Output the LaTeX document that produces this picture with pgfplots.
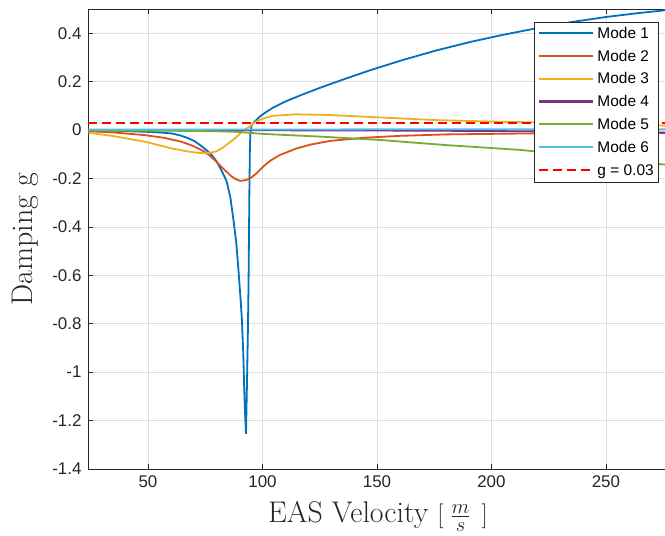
\documentclass[border=0pt]{standalone}
\usepackage{pgfplots}
\pgfplotsset{compat=1.18}
\usepackage{fontspec}
\newfontfamily\arial{Liberation Sans}
\usetikzlibrary{calc}
\definecolor{modeA}{rgb}{0,0.447,0.741}
\definecolor{modeB}{rgb}{0.850,0.325,0.098}
\definecolor{modeC}{rgb}{0.929,0.694,0.125}
\definecolor{modeD}{rgb}{0.494,0.184,0.556}
\definecolor{modeE}{rgb}{0.466,0.674,0.188}
\definecolor{modeF}{rgb}{0.301,0.745,0.933}
\definecolor{axgray}{rgb}{0.15,0.15,0.15}
\definecolor{gridgray}{rgb}{0.875,0.875,0.875}
\newcommand{\legline}[1]{\textcolor{#1}{\rule[0.27em]{54bp}{2.1bp}}}
\newcommand{\legdash}{\textcolor{red}{\rule[0.27em]{9bp}{2.1bp}\hspace{5bp}\rule[0.27em]{9bp}{2.1bp}\hspace{5bp}\rule[0.27em]{9bp}{2.1bp}\hspace{5bp}\rule[0.27em]{9bp}{2.1bp}\hspace{3bp}}}
\begin{document}
\begin{tikzpicture}
\begin{axis}[
  scale only axis, width=580bp, height=460bp,
  xmin=23.8, xmax=277.1, ymin=-1.4, ymax=0.5,
  xtick={50,100,150,200,250},
  xticklabels={50,100,150,200,250},
  ytick={-1.4,-1.2,-1,-0.8,-0.6,-0.4,-0.2,0,0.2,0.4},
  yticklabels={-1.4,-1.2,-1,-0.8,-0.6,-0.4,-0.2,0,0.2,0.4},
  xtick pos=both, ytick pos=left,
  tick align=inside, major tick length=5bp,
  tick style={axgray, line width=0.7bp},
  axis line style={axgray, line width=0.8bp},
  grid=major, major grid style={gridgray, line width=0.7bp},
  tick label style={font=\arial\fontsize{17}{20}\selectfont, text=axgray},
  yticklabel style={xshift=-3bp},
  xticklabel style={yshift=-3bp},
  xlabel={EAS Velocity $[\;\frac{m}{s}\;\,]$},
  ylabel={Damping g},
  xlabel style={font=\fontsize{30}{36}\selectfont, text=axgray, at={(axis description cs:0.5,-0.117)}, anchor=base},
  ylabel style={font=\fontsize{30}{36}\selectfont, text=axgray, at={(axis description cs:-0.095,0.5)}, anchor=base},
  every axis plot/.append style={line width=1.8bp},
]
\addplot[modeA] coordinates {(24,-0.002) (35,-0.003) (48.6,-0.007) (55,-0.010) (60.4,-0.014) (64,-0.022) (67.7,-0.034) (70.5,-0.047) (73.3,-0.066) (75.5,-0.083) (77.6,-0.100) (80,-0.130) (82,-0.165) (84.3,-0.210) (86,-0.280) (87.3,-0.370) (88.5,-0.460) (89.5,-0.577) (90.3,-0.680) (91,-0.780) (91.6,-0.920) (92,-1.060) (92.4,-1.170) (92.8,-1.255) (93.2,-1.060) (93.6,-0.850) (93.9,-0.646) (94.1,-0.440) (94.3,-0.234) (94.5,-0.080) (94.7,-0.014) (95.3,0.020) (96.5,0.034) (98.9,0.056) (101.5,0.074) (104.7,0.093) (110,0.118) (117,0.145) (125,0.174) (135,0.208) (147,0.247) (161.5,0.290) (176,0.329) (190.8,0.364) (205.4,0.394) (220,0.421) (235,0.446) (250,0.467) (265,0.484) (277,0.496)};
\addplot[modeB] coordinates {(24,-0.005) (35,-0.010) (48.6,-0.021) (57,-0.032) (64.5,-0.048) (69,-0.063) (73.3,-0.082) (76.5,-0.102) (79.1,-0.124) (81.5,-0.146) (83.5,-0.165) (85.8,-0.186) (87.8,-0.200) (90.2,-0.210) (92.5,-0.207) (94.6,-0.200) (97.5,-0.178) (100.3,-0.151) (103.5,-0.126) (107.6,-0.103) (114.9,-0.076) (121,-0.060) (129.5,-0.045) (144,-0.032) (160,-0.024) (180,-0.018) (216.8,-0.014) (250,-0.011) (277,-0.010)};
\addplot[modeC] coordinates {(24,-0.011) (35,-0.025) (48.6,-0.048) (60.4,-0.076) (67.7,-0.089) (72,-0.094) (74.9,-0.096) (77.8,-0.093) (80,-0.087) (82.2,-0.076) (85.8,-0.050) (88,-0.034) (91.6,-0.002) (93.9,0.012) (97.5,0.036) (101,0.050) (104.7,0.059) (114.9,0.065) (129.5,0.062) (151.4,0.052) (176,0.041) (205,0.034) (230,0.030) (250,0.025) (277,0.018)};
\addplot[modeD] coordinates {(24,0) (100,-0.001) (150,-0.002) (200,-0.004) (250,-0.008) (277,-0.012)};
\addplot[modeE] coordinates {(24,-0.002) (60,-0.003) (80,-0.005) (90,-0.008) (100.3,-0.016) (125,-0.027) (151.4,-0.041) (180,-0.062) (212.6,-0.082) (250,-0.118) (277,-0.144)};
\addplot[modeF] coordinates {(24,0.002) (100,0.002) (150,0.003) (200,0.003) (277,0.003)};
\addplot[red, dash pattern=on 9bp off 5bp] coordinates {(23.8,0.03) (277.1,0.03)};
\node[draw=axgray, line width=0.6bp, fill=white, anchor=north east, inner xsep=5bp, inner ysep=0bp,
  font=\arial\fontsize{15.5}{22.9}\selectfont] at (rel axis cs:0.9845,0.9717)
  {\begin{tabular}{@{}l@{\hspace{4.5bp}}l@{}}
   \legline{modeA} & Mode 1\\
   \legline{modeB} & Mode 2\\
   \legline{modeC} & Mode 3\\
   \legline{modeD} & Mode 4\\
   \legline{modeE} & Mode 5\\
   \legline{modeF} & Mode 6\\
   \legdash & g = 0.03
   \end{tabular}};
\end{axis}
\pgfresetboundingbox
\path[use as bounding box] ($(current axis.south west)+(-88bp,-67bp)$) rectangle ($(current axis.south west)+(577bp,469bp)$);
\end{tikzpicture}
\end{document}
